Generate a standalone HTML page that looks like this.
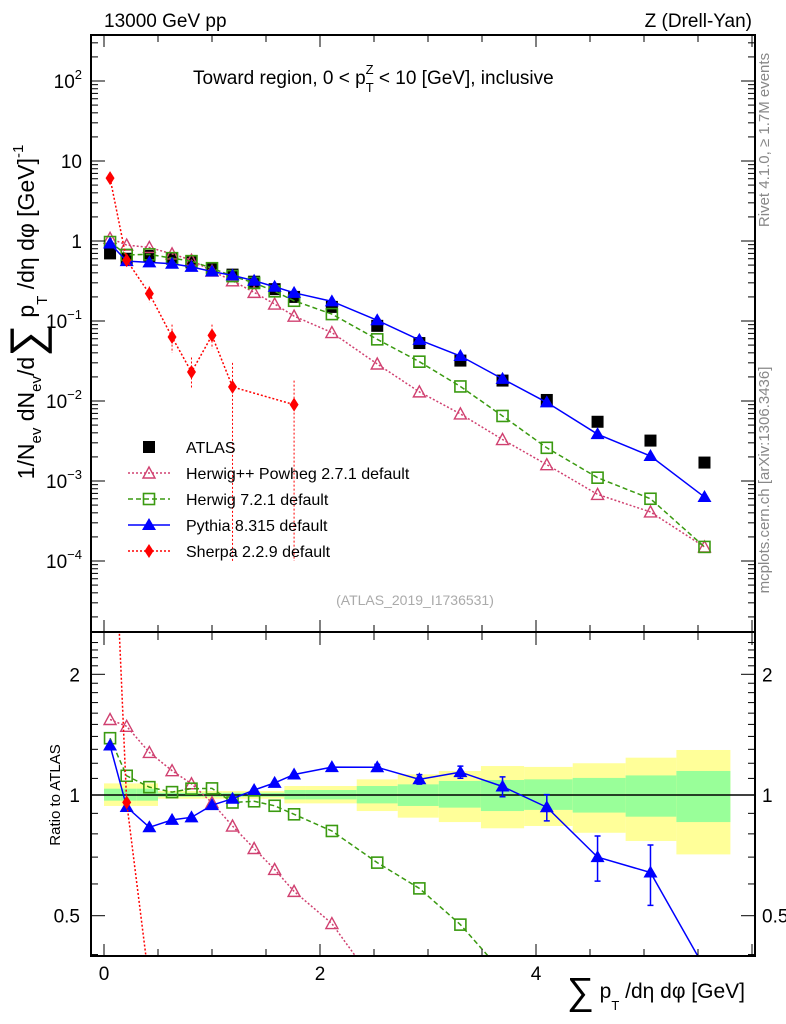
<!DOCTYPE html>
<html><head><meta charset="utf-8"><style>
html,body{margin:0;background:#fff;overflow:hidden;width:786px;height:1024px;}
svg{display:block;font-family:"Liberation Sans",sans-serif;}
</style></head><body>
<svg id="c" width="786" height="1024" viewBox="0 0 786 1024">
<defs>
<clipPath id="cm"><rect x="91" y="35" width="664" height="597"/></clipPath>
<clipPath id="cr"><rect x="91" y="633" width="664" height="323"/></clipPath>
</defs>
<g id="bands" clip-path="url(#cr)"></g>
<g id="marks"></g>
<rect x="91" y="35" width="664" height="597" fill="none" stroke="#000" stroke-width="2"/>
<rect x="91" y="632" width="664" height="324" fill="none" stroke="#000" stroke-width="2"/>
<g id="axes"></g>
<text x="104" y="27" font-size="19">13000 GeV pp</text>
<text x="752" y="27" font-size="19" text-anchor="end">Z (Drell-Yan)</text>
<text x="193" y="84" font-size="19">Toward region, 0 &lt; p<tspan font-size="13" dy="8">T</tspan><tspan font-size="13" dx="-8" dy="-18">Z</tspan><tspan dy="10"> &lt; 10 [GeV], inclusive</tspan></text>
<text x="415" y="605" font-size="14" fill="#aaa" text-anchor="middle">(ATLAS_2019_I1736531)</text>
<text transform="translate(769,140) rotate(-90)" font-size="15" fill="#888" text-anchor="middle">Rivet 4.1.0, ≥ 1.7M events</text>
<text transform="translate(769,480) rotate(-90)" font-size="15" fill="#888" text-anchor="middle">mcplots.cern.ch [arXiv:1306.3436]</text>
<text transform="translate(34,312) rotate(-90)" font-size="23" text-anchor="middle">1/N<tspan font-size="15" dy="7">ev</tspan><tspan dy="-7"> dN</tspan><tspan font-size="15" dy="7">ev</tspan><tspan dy="-7">/d</tspan><tspan font-size="46" dy="8">∑</tspan><tspan dy="-8"> p</tspan><tspan font-size="15" dy="13">T</tspan><tspan dy="-13"> /dη dφ  [GeV]</tspan><tspan font-size="15" dy="-11">-1</tspan></text>
<text transform="translate(60,795) rotate(-90)" font-size="15" text-anchor="middle">Ratio to ATLAS</text>
<text x="745" y="998" font-size="21" text-anchor="end"><tspan font-size="38" dy="6">∑</tspan><tspan dy="-6"> p</tspan><tspan font-size="13" dy="12">T</tspan><tspan dy="-12"> /dη dφ [GeV]</tspan></text>
<g id="legend"></g>
</svg>
<script>
const xs=[0.056,0.21,0.42,0.63,0.81,1.0,1.19,1.39,1.58,1.76,2.11,2.53,2.92,3.3,3.69,4.1,4.57,5.06,5.56];
const atlas=[0.70,0.60,0.65,0.60,0.54,0.44,0.38,0.31,0.25,0.20,0.15,0.087,0.053,0.032,0.018,0.0103,0.0055,0.0032,0.0017];
const pythia=[0.93,0.56,0.54,0.52,0.475,0.415,0.372,0.319,0.268,0.225,0.176,0.102,0.058,0.0365,0.0189,0.0096,0.00385,0.00205,0.00063];
const herwig7=[0.97,0.67,0.68,0.61,0.56,0.457,0.364,0.299,0.235,0.179,0.122,0.059,0.031,0.0152,0.0065,0.0026,0.0011,0.0006,0.00015];
const herwigpp=[1.08,0.89,0.83,0.69,0.576,0.421,0.318,0.228,0.163,0.115,0.0717,0.029,0.013,0.0069,0.0033,0.0016,0.00068,0.00041,0.00015];
const sherpaX=[0.056,0.21,0.42,0.63,0.81,1.0,1.19,1.76];
const sherpa=[6.1,0.575,0.22,0.063,0.023,0.066,0.015,0.009];
const sherpaLo=[5.2,0.5,0.17,0.04,0.014,0.045,0.0001,0.0001];
const sherpaHi=[7.0,0.65,0.27,0.09,0.035,0.09,0.03,0.018];
const pyRatioErr=[0,0,0,0,0,0,0,0,0,0,0,0.02,0.03,0.04,0.06,0.07,0.09,0.11,0];
const binEdges=[0,0.15,0.3,0.5,0.7,0.9,1.1,1.3,1.5,1.67,1.87,2.34,2.72,3.1,3.49,3.89,4.34,4.83,5.3,5.8];
const yelHi=[1.069,1.069,1.069,1.023,1.023,1.023,1.023,1.023,1.023,1.053,1.053,1.094,1.126,1.148,1.181,1.175,1.2,1.239,1.295];
const yelLo=[0.939,0.939,0.939,0.979,0.979,0.979,0.979,0.979,0.979,0.953,0.953,0.912,0.878,0.856,0.826,0.837,0.805,0.768,0.711];
const grnHi=[1.037,1.037,1.037,1.013,1.013,1.013,1.013,1.013,1.013,1.029,1.029,1.053,1.063,1.084,1.09,1.094,1.103,1.119,1.148];
const grnLo=[0.968,0.968,0.968,0.99,0.99,0.99,0.99,0.99,0.99,0.975,0.975,0.953,0.939,0.93,0.912,0.918,0.904,0.883,0.856];
const xTicks=[0,2,4];
const yTicks=[2,1,0,-1,-2,-3,-4];
const rTicks=[2,1,0.5];

const NS="http://www.w3.org/2000/svg";
const X=v=>104+v*108;
const Y=v=>241-80*Math.log10(v);
const R=v=>795-120.7*Math.log2(v);
function mk(tag,at,parent){const e=document.createElementNS(NS,tag);for(const k in at)e.setAttribute(k,at[k]);parent.appendChild(e);return e;}
const bands=document.getElementById('bands'),marks=document.getElementById('marks'),axes=document.getElementById('axes'),leg=document.getElementById('legend');
const gm=mk('g',{'clip-path':'url(#cm)'},marks);


const gr=mk('g',{'clip-path':'url(#cr)'},marks);



for(let i=0;i<yelHi.length;i++){
 const x0=X(binEdges[i]),w=X(binEdges[i+1])-x0;
 const y1=mk('rect',{x:x0,y:R(yelHi[i]),width:w,height:R(yelLo[i])-R(yelHi[i]),fill:'#ffff99'},bands);
 
 
 const g1=mk('rect',{x:x0,y:R(grnHi[i]),width:w,height:R(grnLo[i])-R(grnHi[i]),fill:'#99ff99'},bands);
 
 
}
const one=mk('line',{x1:91,x2:755,y1:R(1),y2:R(1),stroke:'#000','stroke-width':1.5},gr);



function marker(type,x,y,col,g,s){
 let e;
 if(type==='sq')e=mk('rect',{x:x-6,y:y-6,width:12,height:12,fill:'#000'},g);
 else if(type==='osq')e=mk('rect',{x:x-5.5,y:y-5.5,width:11,height:11,fill:'none',stroke:col,'stroke-width':1.6},g);
 else if(type==='tri')e=mk('polygon',{points:`${x},${y-7} ${x-7},${y+5} ${x+7},${y+5}`,fill:col},g);
 else if(type==='otri')e=mk('polygon',{points:`${x},${y-6} ${x-6},${y+5} ${x+6},${y+5}`,fill:'none',stroke:col,'stroke-width':1.4},g);
 else e=mk('polygon',{points:`${x},${y-7} ${x-4.5},${y} ${x},${y+7} ${x+4.5},${y}`,fill:col},g);
 
 
}
function series(name,xv,vals,col,dash,type,ratio){
 const g=ratio?gr:gm;const f=ratio?R:Y;
 const vs=ratio?vals.map((v,i)=>v/atlas[xs.indexOf(xv[i])]):vals;
 const pts=xv.map((x,i)=>X(x)+','+f(vs[i])).join(' ');
 const l=mk('polyline',{points:pts,fill:'none',stroke:col,'stroke-width':1.5,'stroke-dasharray':dash},g);
 
 
 xv.forEach((x,i)=>marker(type,X(x),f(vs[i]),col,g,name));
}
atlas.forEach((v,i)=>marker('sq',X(xs[i]),Y(v),'#000',gm,'atlas'));
sherpaX.forEach((x,i)=>{const e=mk('line',{x1:X(x),x2:X(x),y1:Y(sherpaHi[i]),y2:Y(sherpaLo[i]),stroke:'red','stroke-width':1,'stroke-dasharray':'2 2'},gm);
 
 });
pythia.forEach((v,i)=>{if(!pyRatioErr[i])return;const r=v/atlas[i];
 const x=X(xs[i]),y1=R(r+pyRatioErr[i]),y2=R(r-pyRatioErr[i]);
 const e=mk('path',{d:`M${x},${y1}V${y2}M${x-3},${y1}H${x+3}M${x-3},${y2}H${x+3}`,stroke:'blue','stroke-width':1.5,fill:'none'},gr);
 
 });
series('herwigpp',xs,herwigpp,'#d04070','2 2','otri',false);
series('herwig7',xs,herwig7,'#3a9a10','5 3','osq',false);
series('pythia',xs,pythia,'blue','','tri',false);
series('sherpa',sherpaX,sherpa,'red','2 2','dia',false);
series('herwigpp',xs,herwigpp,'#d04070','2 2','otri',true);
series('herwig7',xs,herwig7,'#3a9a10','5 3','osq',true);
series('pythia',xs,pythia,'blue','','tri',true);
series('sherpa',sherpaX,sherpa,'red','2 2','dia',true);

function tick(x1,y1,x2,y2){const t=mk('line',{x1,y1,x2,y2,stroke:'#000','stroke-width':1},axes);}
for(let v=0;v<=6;v+=0.5){const x=X(v);if(x>755)break;const L=(v%2===0)?12:7;
 tick(x,35,x,35+L);tick(x,632,x,632-L);tick(x,633,x,633+L);tick(x,956,x,956-L);}
xTicks.forEach(v=>{const t=mk('text',{x:X(v),y:980,'font-size':19,'text-anchor':'middle'},axes);t.textContent=v;
 });
for(let d=-5;d<=2;d++)for(let m=1;m<10;m++){const y=Y(m*Math.pow(10,d));if(y<35||y>632)continue;const L=m===1?14:7;tick(91,y,91+L,y);tick(755,y,755-L,y);}
yTicks.forEach(p=>{const t=mk('text',{x:82,y:Y(Math.pow(10,p))+7,'font-size':19,'text-anchor':'end'},axes);
 if(p===0)t.textContent='1';else if(p===1)t.textContent='10';else{t.textContent='10';const s=mk('tspan',{'font-size':13,dy:-9},t);s.textContent=String(p).replace('-','−');}
 });
for(let v=0.4;v<=2.5;v+=0.1){const y=R(v);if(y<633||y>956)continue;const big=[0.5,1,2].some(b=>Math.abs(b-v)<1e-6);const L=big?14:7;tick(91,y,91+L,y);tick(755,y,755-L,y);}
rTicks.forEach(v=>{[[80,'end'],[762,'start']].forEach(([x,a])=>{const t=mk('text',{x,y:R(v)+7,'font-size':19,'text-anchor':a},axes);t.textContent=v;
 });});

const items=[['ATLAS','sq','#000',''],['Herwig++ Powheg 2.7.1 default','otri','#d04070','2 2'],['Herwig 7.2.1 default','osq','#3a9a10','5 3'],['Pythia 8.315 default','tri','blue',''],['Sherpa 2.2.9 default','dia','red','2 2']];
items.forEach((it,i)=>{const y=447+26*i;const g=mk('g',{},leg);
 
 
 if(i>0)mk('line',{x1:128,x2:170,y1:y,y2:y,stroke:it[2],'stroke-width':1.5,'stroke-dasharray':it[3]},g);
 marker(it[1],149,y,it[2],g,'legend');
 const t=mk('text',{x:186,y:y+6,'font-size':16},g);t.textContent=it[0];});
</script>
</body></html>
